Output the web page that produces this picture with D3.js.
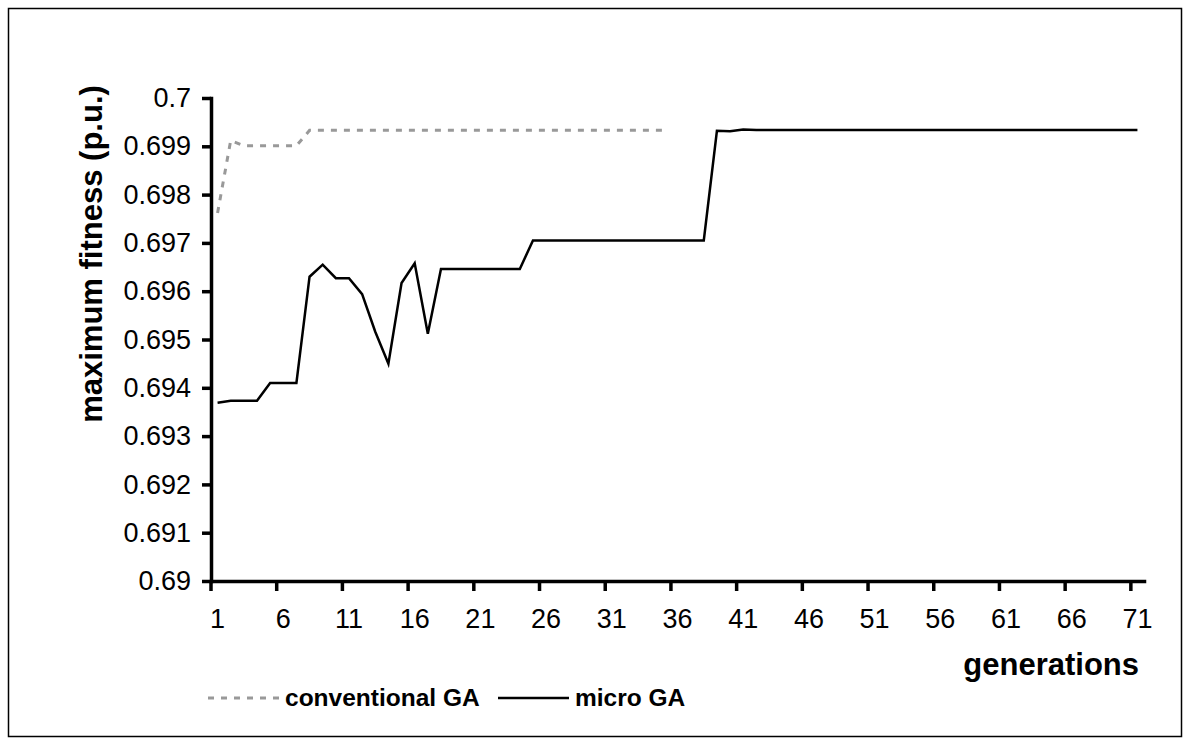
<!DOCTYPE html>
<html>
<head>
<meta charset="utf-8">
<script src="https://cdn.jsdelivr.net/npm/d3@7"></script>
<style>
  body { margin: 0; background: #fff; }
  text { font-family: "Liberation Sans", Arial, sans-serif; fill: #000; }
</style>
</head>
<body>
<svg id="chart"></svg>
<script>
// generations 1..71 (category axis)
const generations = [1,2,3,4,5,6,7,8,9,10,11,12,13,14,15,16,17,18,19,20,
  21,22,23,24,25,26,27,28,29,30,31,32,33,34,35,36,37,38,39,40,
  41,42,43,44,45,46,47,48,49,50,51,52,53,54,55,56,57,58,59,60,
  61,62,63,64,65,66,67,68,69,70,71];

// conventional GA, 35 generations
const conventionalGA = [0.69762, 0.69912, 0.69901, 0.69901, 0.69901, 0.69901, 0.69901,
  0.69933, 0.69933, 0.69933, 0.69933, 0.69933, 0.69933, 0.69933, 0.69933, 0.69933,
  0.69933, 0.69933, 0.69933, 0.69933, 0.69933, 0.69933, 0.69933, 0.69933, 0.69933,
  0.69933, 0.69933, 0.69933, 0.69933, 0.69933, 0.69933, 0.69933, 0.69933, 0.69933, 0.69933];

// micro GA, 71 generations
const microGA = [0.69369, 0.69373, 0.69373, 0.69373, 0.69410, 0.69410, 0.69410,
  0.69630, 0.69655, 0.69627, 0.69627, 0.69594, 0.69516, 0.69450, 0.69617, 0.69658,
  0.69512, 0.69646, 0.69646, 0.69646, 0.69646, 0.69646, 0.69646, 0.69646,
  0.69705, 0.69705, 0.69705, 0.69705, 0.69705, 0.69705, 0.69705, 0.69705, 0.69705,
  0.69705, 0.69705, 0.69705, 0.69705, 0.69705,
  0.69932, 0.69931, 0.69935, 0.69934, 0.69934, 0.69934, 0.69934, 0.69934, 0.69934,
  0.69934, 0.69934, 0.69934, 0.69934, 0.69934, 0.69934, 0.69934, 0.69934, 0.69934,
  0.69934, 0.69934, 0.69934, 0.69934, 0.69934, 0.69934, 0.69934, 0.69934, 0.69934,
  0.69934, 0.69934, 0.69934, 0.69934, 0.69934, 0.69934];

const xTickLabels = [1, 6, 11, 16, 21, 26, 31, 36, 41, 46, 51, 56, 61, 66, 71];
const yTicks = [0.69, 0.691, 0.692, 0.693, 0.694, 0.695, 0.696, 0.697, 0.698, 0.699, 0.7];

const width = 1190, height = 744;

const svg = d3.select("#chart")
    .attr("width", width)
    .attr("height", height);

// outer frame
svg.append("rect")
    .attr("x", 8.5).attr("y", 8.5)
    .attr("width", 1173).attr("height", 728)
    .attr("fill", "none")
    .attr("stroke", "#000")
    .attr("stroke-width", 1.5);

const x = d3.scaleBand().domain(generations).range([211, 1144]);
const y = d3.scaleLinear().domain([0.69, 0.7]).range([581, 98]);
const cx = d => x(d) + x.bandwidth() / 2;

// y axis
const yAxis = svg.append("g")
    .attr("transform", "translate(211,0)")
    .call(d3.axisLeft(y).tickValues(yTicks).tickSize(9).tickSizeOuter(0).tickPadding(11)
        .tickFormat(d => String(+d.toFixed(3))));
yAxis.select(".domain").attr("stroke-width", 3.5).attr("stroke-linecap", "square");
yAxis.selectAll(".tick line").attr("stroke-width", 3.5);
yAxis.selectAll("text").style("font-size", "27px");

// x axis: labels at category centres, tick marks at category boundaries
const xAxis = svg.append("g")
    .attr("transform", "translate(0,581)")
    .call(d3.axisBottom(x).tickValues(xTickLabels).tickSize(0).tickSizeOuter(0));
xAxis.select(".domain").attr("stroke-width", 3.5).attr("stroke-linecap", "square");
xAxis.selectAll("text")
    .style("font-size", "27px")
    .attr("y", 47).attr("dy", null);

svg.append("g").selectAll("line")
    .data(xTickLabels)
    .join("line")
    .attr("x1", d => x(d)).attr("x2", d => x(d))
    .attr("y1", 581).attr("y2", 591)
    .attr("stroke", "#000")
    .attr("stroke-width", 3.5);

// series
const line = d3.line()
    .x((d, i) => cx(generations[i]))
    .y(d => y(d));

svg.append("path")
    .datum(conventionalGA)
    .attr("d", line)
    .attr("fill", "none")
    .attr("stroke", "#999999")
    .attr("stroke-width", 3)
    .attr("stroke-dasharray", "6,7");

svg.append("path")
    .datum(microGA)
    .attr("d", line)
    .attr("fill", "none")
    .attr("stroke", "#000")
    .attr("stroke-width", 2.5)
    .attr("stroke-linejoin", "miter");

// axis titles
svg.append("text")
    .attr("transform", "translate(102,254) rotate(-90)")
    .attr("text-anchor", "middle")
    .style("font-size", "31px")
    .style("font-weight", "bold")
    .text("maximum fitness (p.u.)");

svg.append("text")
    .attr("x", 1139).attr("y", 675)
    .attr("text-anchor", "end")
    .style("font-size", "31px")
    .style("font-weight", "bold")
    .text("generations");

// legend
const legend = svg.append("g");
legend.append("line")
    .attr("x1", 208).attr("x2", 281).attr("y1", 698).attr("y2", 698)
    .attr("stroke", "#999999").attr("stroke-width", 3).attr("stroke-dasharray", "6,7");
legend.append("text")
    .attr("x", 285).attr("y", 706)
    .style("font-size", "24.5px").style("font-weight", "bold")
    .text("conventional GA");
legend.append("line")
    .attr("x1", 498).attr("x2", 569).attr("y1", 698).attr("y2", 698)
    .attr("stroke", "#000").attr("stroke-width", 2.5);
legend.append("text")
    .attr("x", 575).attr("y", 706)
    .style("font-size", "24.5px").style("font-weight", "bold")
    .text("micro GA");
</script>
</body>
</html>
